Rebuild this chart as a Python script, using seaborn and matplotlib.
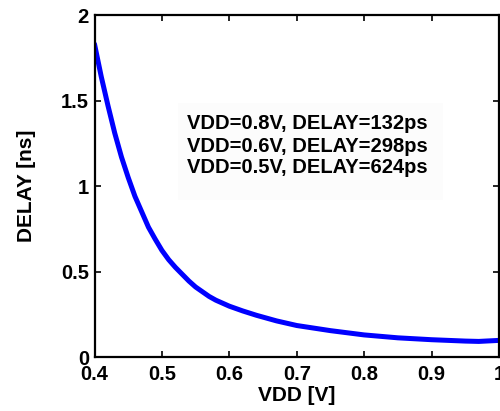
import matplotlib
matplotlib.use("Agg")
import matplotlib.pyplot as plt
import seaborn as sns
import pandas as pd
from matplotlib.patches import Rectangle

# Data
vdd = [0.40, 0.41, 0.42, 0.43, 0.44, 0.45, 0.46, 0.47, 0.48, 0.49, 0.50,
       0.51, 0.52, 0.54, 0.55, 0.57, 0.58, 0.60, 0.62, 0.64, 0.67, 0.70,
       0.75, 0.80, 0.85, 0.90, 0.95, 0.97, 1.00]
delay = [1.83, 1.64, 1.47, 1.31, 1.17, 1.05, 0.94, 0.85, 0.76, 0.69, 0.624,
         0.57, 0.525, 0.445, 0.41, 0.355, 0.333, 0.298, 0.27, 0.245, 0.212, 0.185,
         0.155, 0.130, 0.113, 0.102, 0.094, 0.092, 0.098]
annotations = ["VDD=0.8V, DELAY=132ps",
               "VDD=0.6V, DELAY=298ps",
               "VDD=0.5V, DELAY=624ps"]
xticks = [0.4, 0.5, 0.6, 0.7, 0.8, 0.9, 1.0]
xticklabels = ["0.4", "0.5", "0.6", "0.7", "0.8", "0.9", "1"]
yticks = [0, 0.5, 1.0, 1.5, 2.0]
yticklabels = ["0", "0.5", "1", "1.5", "2"]

sns.set_style("ticks")
plt.rcParams["font.family"] = ["Liberation Sans", "DejaVu Sans"]
plt.rcParams["font.weight"] = "bold"
plt.rcParams["text.color"] = "black"
plt.rcParams["axes.labelcolor"] = "black"
plt.rcParams["xtick.color"] = "black"
plt.rcParams["ytick.color"] = "black"

df = pd.DataFrame({"VDD": vdd, "DELAY": delay})

fig = plt.figure(figsize=(5.0, 4.11), dpi=100)
ax = fig.add_axes([0.189, 0.131, 0.809, 0.8325])

sns.lineplot(data=df, x="VDD", y="DELAY", ax=ax, color="#0000ff", linewidth=3.6, sort=True)

ax.set_xlim(0.4, 1.0)
ax.set_ylim(0, 2)
ax.set_xticks(xticks)
ax.set_xticklabels(xticklabels, fontsize=14.5, fontweight="bold", color="black")
ax.set_yticks(yticks)
ax.set_yticklabels(yticklabels, fontsize=14.5, fontweight="bold", color="black")
ax.tick_params(axis="both", direction="in", length=4, width=1.2, colors="black",
               top=True, right=True)
ax.tick_params(axis="x", pad=6)
ax.tick_params(axis="y", pad=4)
for s in ax.spines.values():
    s.set_visible(True)
    s.set_linewidth(1.6)
    s.set_color("black")

ax.set_xlabel("VDD [V]", fontsize=15, fontweight="bold", labelpad=1, color="black")
ax.set_ylabel("DELAY [ns]", fontsize=15, fontweight="bold", labelpad=18, color="black")

ax.add_patch(Rectangle((0.206, 0.459), 0.656, 0.284, transform=ax.transAxes,
                       facecolor="#fcfcfc", edgecolor="none", zorder=0.5))
for txt, yy in zip(annotations, [0.684, 0.617, 0.553]):
    ax.text(0.229, yy, txt, transform=ax.transAxes, fontsize=14.5, fontweight="bold",
            ha="left", va="center", color="black")

fig.savefig("out.png", dpi=100)
